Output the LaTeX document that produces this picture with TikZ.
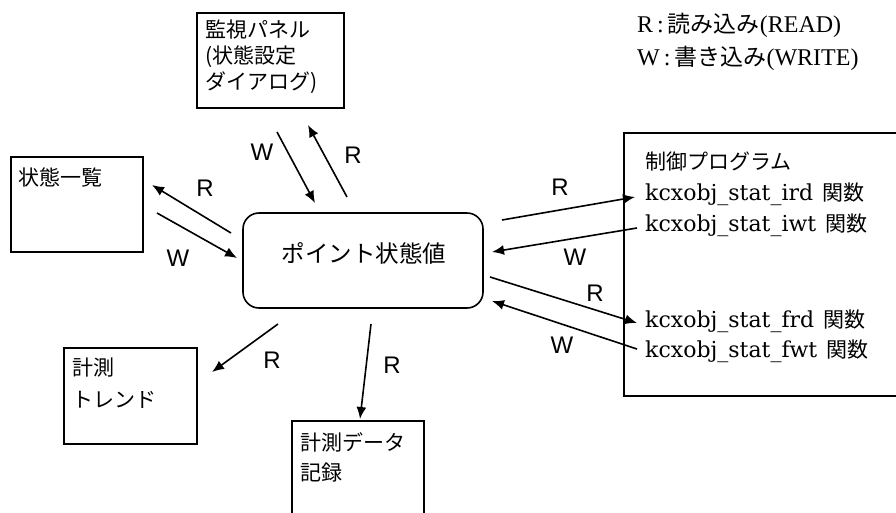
\documentclass[tikz,border=0pt]{standalone}
\usepackage{fontspec}
\setmainfont{Liberation Serif}
\newfontfamily\jpfont{Noto Sans CJK JP}
\newfontfamily\lblfont{Liberation Sans}
\newfontfamily\fnfont{DejaVu Serif}
\usetikzlibrary{arrows.meta}

\newcommand{\fnname}[1]{{\fnfont\fontsize{22}{26}\selectfont #1}\hspace*{9pt}}
\newcommand{\keylat}[1]{{\rmfamily\fontsize{24}{28}\selectfont #1}}

\tikzset{
  blk/.style={draw, line width=1.6pt, inner sep=0pt},
  jptxt/.style={anchor=west, inner sep=0pt, font=\jpfont\fontsize{21}{25}\selectfont},
  keytxt/.style={anchor=west, inner sep=0pt, font=\jpfont\fontsize{23}{27}\selectfont},
  rwlbl/.style={inner sep=0pt, font=\lblfont\fontsize{24}{27}\selectfont},
  flow/.style={line width=1.6pt, -{Latex[length=12pt,width=10pt]}},
}

\begin{document}
\begin{tikzpicture}[x=1pt,y=-1pt]
        \clip (0,0) rectangle (896,512);

        % boxes
        \node[blk, minimum width=147pt, minimum height=95pt] (panel) at (270.5,60.5) {}; %panel
        \node[blk, minimum width=132pt, minimum height=95pt] (list) at (77,204.5) {}; %list
        \node[blk, minimum width=133pt, minimum height=96pt] (trend) at (130.5,396) {}; %trend
        \node[blk, minimum width=132pt, minimum height=110pt] (rec) at (358,476) {}; %record
        \node[blk, minimum width=290pt, minimum height=263pt] (ctrl) at (769,264.5) {}; %control
        \node[blk, rounded corners=16pt, minimum width=240pt, minimum height=95pt] (point) at (363,260.5) {}; %point

        % texts in the boxes
        \node[jptxt] (panelA) at (205,30) {監視パネル};
        \node[jptxt] (panelB) at (205,57) {(状態設定};
        \node[jptxt] (panelC) at (205,83) {ダイアログ)};
        \node[jptxt] (listA) at (18,177) {状態一覧};
        \node[jptxt] (trendA) at (72,368) {計測};
        \node[jptxt] (trendB) at (72,400) {トレンド};
        \node[jptxt] (recA) at (300,442) {計測データ};
        \node[jptxt] (recB) at (300,473) {記録};
        \node[jptxt] (ctrlA) at (645,162) {制御プログラム};
        \node[jptxt] (fnIrd) at (645,194) {\fnname{kcxobj\_stat\_ird}関数};
        \node[jptxt] (fnIwt) at (645,225) {\fnname{kcxobj\_stat\_iwt}関数};
        \node[jptxt] (fnFrd) at (645,321) {\fnname{kcxobj\_stat\_frd}関数};
        \node[jptxt] (fnFwt) at (645,351) {\fnname{kcxobj\_stat\_fwt}関数};
        \node[inner sep=0pt, font=\jpfont\fontsize{23.5}{27}\selectfont] (pointA) at (364,253) {ポイント状態値};

        % legend
        \node[keytxt] (keyR) at (637,25) {\keylat{R\,:\,}読み込み\keylat{(READ)}};
        \node[keytxt] (keyW) at (637,58) {\keylat{W\,:\,}書き込み\keylat{(WRITE)}};

        % arrow ends
        \coordinate (panelWa) at (277,132); \coordinate (panelWb) at (315,203);
        \coordinate (panelRa) at (347,197); \coordinate (panelRb) at (308,125);
        \coordinate (listRa) at (231,233);  \coordinate (listRb) at (152,185);
        \coordinate (listWa) at (157,213);  \coordinate (listWb) at (237,258);
        \coordinate (irdRa) at (502,220);   \coordinate (irdRb) at (635,197);
        \coordinate (iwtWa) at (637,228);   \coordinate (iwtWb) at (492,252);
        \coordinate (frdRa) at (490,277);   \coordinate (frdRb) at (637,323);
        \coordinate (fwtWa) at (637,349);   \coordinate (fwtWb) at (492,301);
        \coordinate (trendRa) at (278,324); \coordinate (trendRb) at (212,372);
        \coordinate (recRa) at (371,324);   \coordinate (recRb) at (360,419);

        \draw[flow] (panelWa) -- (panelWb);
        \draw[flow] (panelRa) -- (panelRb);
        \draw[flow] (listRa) -- (listRb);
        \draw[flow] (listWa) -- (listWb);
        \draw[flow] (irdRa) -- (irdRb);
        \draw[flow] (iwtWa) -- (iwtWb);
        \draw[flow] (frdRa) -- (frdRb);
        \draw[flow] (fwtWa) -- (fwtWb);
        \draw[flow] (trendRa) -- (trendRb);
        \draw[flow] (recRa) -- (recRb);

        % R / W marks
        \node[rwlbl] (lPanelW) at (262,152) {W};
        \node[rwlbl] (lPanelR) at (353,155) {R};
        \node[rwlbl] (lListR) at (205,188) {R};
        \node[rwlbl] (lListW) at (178,258) {W};
        \node[rwlbl] (lIrdR) at (560,187) {R};
        \node[rwlbl] (lIwtW) at (575,257) {W};
        \node[rwlbl] (lFrdR) at (595,293) {R};
        \node[rwlbl] (lFwtW) at (562,345) {W};
        \node[rwlbl] (lTrendR) at (272,360) {R};
        \node[rwlbl] (lRecR) at (392,365) {R};
\end{tikzpicture}
\end{document}
